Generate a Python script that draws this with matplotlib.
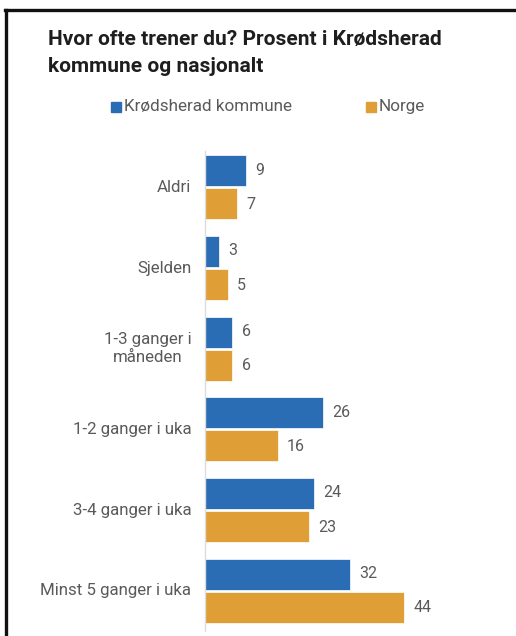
import matplotlib
matplotlib.use("Agg")
import matplotlib.pyplot as plt
import numpy as np

# data
categories = ["Aldri", "Sjelden", "1-3 ganger i\nmåneden", "1-2 ganger i uka",
              "3-4 ganger i uka", "Minst 5 ganger i uka"]
krodsherad = [9, 3, 6, 26, 24, 32]
norge = [7, 5, 6, 16, 23, 44]
series_names = ["Krødsherad kommune", "Norge"]

blue = "#2b6db5"
orange = "#e09e36"
grey = "#5a5a5a"

plt.rcParams["font.family"] = ["Roboto", "DejaVu Sans"]

fig = plt.figure(figsize=(5.16, 6.36), dpi=100)

# screenshot frame (top and left border)
fig.add_artist(plt.Line2D([5 / 516, 1], [1 - 10 / 636, 1 - 10 / 636], color="#111", lw=2.4))
fig.add_artist(plt.Line2D([6 / 516, 6 / 516], [0, 1 - 10 / 636], color="#111", lw=2.4))

fig.text(48 / 516, 1 - 53 / 636, "Hvor ofte trener du? Prosent i Krødsherad\nkommune og nasjonalt",
         fontsize=15, fontweight="bold", color="#1e1e1e", va="center", linespacing=1.5)

# legend
fig.patches.append(plt.Rectangle((111 / 516, 1 - 112 / 636), 10 / 516, 10 / 636,
                                 transform=fig.transFigure, color=blue))
fig.text(124 / 516, 1 - 107 / 636, series_names[0], fontsize=12.3, color=grey, va="center")
fig.patches.append(plt.Rectangle((366 / 516, 1 - 112 / 636), 10 / 516, 10 / 636,
                                 transform=fig.transFigure, color=orange))
fig.text(379 / 516, 1 - 107 / 636, series_names[1], fontsize=12.3, color=grey, va="center")

ax = fig.add_axes([205 / 516, 5 / 636, 295 / 516, 484 / 636])
y = np.arange(len(categories))
h = 0.385
ax.barh(y - h / 2 - 0.012, krodsherad, height=h, color=blue, edgecolor="white", lw=0.5)
ax.barh(y + h / 2 + 0.012, norge, height=h, color=orange, edgecolor="white", lw=0.5)

for i in range(len(categories)):
    ax.text(krodsherad[i] + 2.1, y[i] - h / 2 - 0.02, str(krodsherad[i]), fontsize=11.5,
            color=grey, va="center", ha="left")
    ax.text(norge[i] + 2.1, y[i] + h / 2 + 0.02, str(norge[i]), fontsize=11.5,
            color=grey, va="center", ha="left")
    ax.text(-3.0, y[i], categories[i], fontsize=12.2, color=grey, va="center", ha="right",
            multialignment="center")

ax.set_xlim(0, 65.1)
ax.set_ylim(5.5, -0.5)
ax.set_xticks([])
ax.set_yticks([])
for s in ["top", "right", "bottom"]:
    ax.spines[s].set_visible(False)
ax.spines["left"].set_color("#dddddd")
ax.spines["left"].set_linewidth(1)
ax.spines["left"].set_bounds(-0.45, 5.5)

fig.savefig("out.png", dpi=100)
